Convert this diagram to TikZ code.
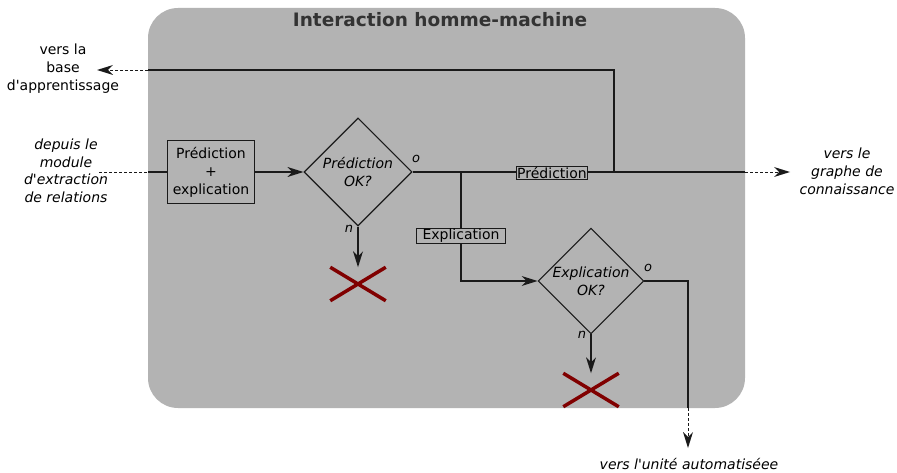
\documentclass[tikz,border=0pt]{standalone}
\usepackage{fontspec}
\setmainfont{DejaVu Sans}
\usetikzlibrary{shapes.geometric,shapes.misc,arrows.meta}

\definecolor{fond}{HTML}{B3B3B3}
\definecolor{titre}{HTML}{333333}
\definecolor{trait}{HTML}{1A1A1A}
\definecolor{rouge}{HTML}{800000}

\tikzset{
  fleche/.style={-{Stealth[length=16pt,width=10pt,inset=5pt,line width=0pt]}},
  pointille/.style={line width=0.9pt, dash pattern=on 3pt off 2pt},
  etiquette/.style={draw=trait, fill=fond, inner ysep=1pt, font=\fontsize{14}{16}\selectfont},
  losange/.style={diamond, draw=trait, inner sep=0pt, font=\itshape\fontsize{14}{18}\selectfont, align=center},
  croix/.style={cross out, draw=rouge, line width=3.5pt, minimum width=52pt, minimum height=30pt, inner sep=0pt},
  lettre/.style={font=\itshape\fontsize{13}{15}\selectfont, inner sep=0pt},
}

\begin{document}
\begin{tikzpicture}[x=1pt,y=-1pt,line width=1.1pt,font=\fontsize{14}{18}\selectfont]
        \useasboundingbox (0,0) rectangle (897,473);

        \fill[fond, rounded corners=30pt] (148,8) rectangle (745,408);
        \node[text=titre, font=\bfseries\fontsize{18.5}{20}\selectfont] (ihm) at (440,20) {Interaction homme-machine};

        \begin{scope}[every node/.style={align=center}]
          \node[font=\itshape\fontsize{14}{17.5}\selectfont] (depuis) at (66,171) {depuis le\\module\\d\textquotesingle extraction\\de relations};
          \node (base)    at (63,69)   {vers la\\base\\d\textquotesingle apprentissage};
          \node[font=\itshape\fontsize{14}{18}\selectfont] (graphe) at (847,171) {vers le\\graphe de\\connaissance};
          \node[font=\itshape\fontsize{14}{18}\selectfont] (unite)  at (689,464) {vers l\textquotesingle unité automatiséee};
        \end{scope}

        \node[draw=trait, minimum width=87pt, minimum height=63pt, inner sep=0pt, align=center] (predexp) at (211,172) {Prédiction\\+\\explication};
        \node[losange, minimum width=108pt, minimum height=108pt] (ok1) at (358,172) {Prédiction\\OK?};
        \node[losange, minimum width=104pt, minimum height=104pt] (ok2) at (591,281) {Explication\\OK?};
        \node[croix] (x1) at (358,284) {};
        \node[croix] (x2) at (591,390) {};

        \coordinate (debut)  at (99,172);
        \coordinate (bord1)  at (148,172);
        \coordinate (finbase) at (97,70);
        \coordinate (bord2)  at (148,70);
        \coordinate (haut)   at (614,172);
        \coordinate (coin)   at (614,70);
        \coordinate (jonc)   at (461,172);
        \coordinate (bord3)  at (745,172);
        \coordinate (fingraphe) at (790,172);
        \coordinate (bord4)  at (688,408);
        \coordinate (finunite) at (688,448);

        \begin{scope}[draw=trait]
          \draw[pointille] (debut) -- (bord1);
          \draw (bord1) -- (predexp.west);
          \draw[fleche] (predexp.east) -- (ok1.west);
          \draw (ok1.east) -- (bord3);
          \draw[pointille, fleche] (bord3) -- (fingraphe);
          \draw (haut) -- (coin) -- (bord2);
          \draw[pointille, fleche] (bord2) -- (finbase);
          \draw[fleche] (jonc) |- (ok2.west);
          \draw (ok2.east) -| (bord4);
          \draw[pointille, fleche] (bord4) -- (finunite);
          \draw[fleche] (ok1.south) -- (x1.north);
          \draw[fleche] (ok2.south) -- (x2.north);
        \end{scope}

        \node[etiquette, inner xsep=1pt] (pred) at (552,173) {Prédiction};
        \node[etiquette, inner xsep=6pt] (expl) at (461,236) {Explication};

        \node[lettre] (o1) at (416,159) {o};
        \node[lettre] (n1) at (349,229) {n};
        \node[lettre] (o2) at (648,268) {o};
        \node[lettre] (n2) at (582,335) {n};

      \end{tikzpicture}
\end{document}
